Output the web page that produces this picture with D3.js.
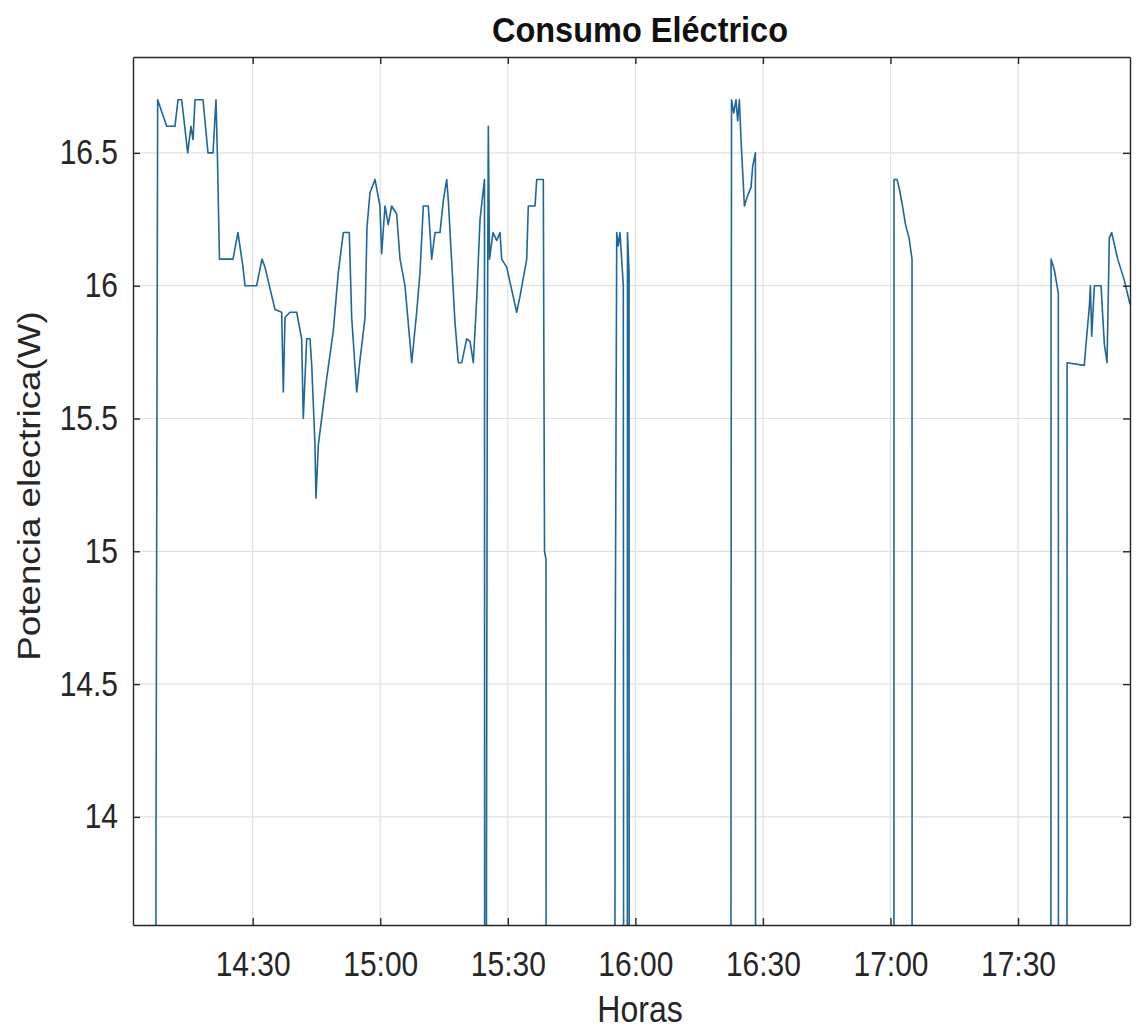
<!DOCTYPE html>
<html><head><meta charset="utf-8">
<script src="https://cdn.jsdelivr.net/npm/d3@7"></script>
<style>body{margin:0;background:#fff} svg{display:block}</style>
</head><body><div id="chart"></div>
<script>
const chartTitle = "Consumo Eléctrico";
const xLabel = "Horas";
const yLabel = "Potencia electrica(W)";
const xDomain = ["14:01:51", "17:56:20"];
const yDomain = [13.593, 16.861];
const xTickLabels = ["14:30", "15:00", "15:30", "16:00", "16:30", "17:00", "17:30"];
const yTickValues = [14, 14.5, 15, 15.5, 16, 16.5];
const yTickLabels = ["14", "14.5", "15", "15.5", "16", "16.5"];

const times = [
"14:07:01","14:07:15","14:07:39","14:09:46","14:11:43","14:12:26","14:13:18","14:14:43","14:15:29","14:15:58",
"14:16:26","14:17:08","14:18:19","14:19:29","14:20:40","14:21:22","14:21:43","14:22:11","14:25:22","14:26:32",
"14:27:43","14:28:11","14:30:56","14:32:11","14:32:53","14:35:15","14:36:49","14:37:12","14:37:36","14:38:46",
"14:40:21","14:41:31","14:41:54","14:42:42","14:43:29","14:43:53","14:44:39","14:44:53","14:45:26","14:47:24",
"14:48:58","14:50:08","14:51:19","14:52:43","14:53:17","14:54:28","14:55:14","14:56:25","14:56:53","14:57:35",
"14:58:46","14:59:56","15:00:20","15:01:07","15:01:53","15:02:41","15:03:52","15:04:39","15:05:49","15:07:24",
"15:08:34","15:09:21","15:10:08","15:11:18","15:12:06","15:12:53","15:14:03","15:14:50","15:15:38","15:16:01",
"15:17:35","15:18:22","15:19:10","15:20:20","15:21:07","15:21:53","15:22:41","15:23:28","15:24:31","15:24:43",
"15:24:59","15:25:11","15:25:25","15:25:42","15:26:31","15:27:23","15:28:10","15:28:34","15:29:44","15:32:05",
"15:32:52","15:34:27","15:34:49","15:36:24","15:36:48","15:38:21","15:38:38","15:38:59","15:39:13",
"15:54:59","15:55:13","15:55:37","15:55:59","15:56:23","15:57:10","15:57:34","15:57:55","15:58:09","15:58:31","15:58:44",
"16:22:16","16:22:30","16:22:37","16:23:08","16:23:40","16:24:04","16:24:28","16:24:51","16:25:39","16:26:25",
"16:27:12","16:27:36","16:28:14","16:28:23",
"17:00:43","17:00:50","17:01:32","17:02:01","17:02:50","17:03:32","17:04:22","17:05:04","17:05:11",
"17:37:32","17:37:46","17:38:32","17:39:29","17:39:36","17:41:25","17:41:32","17:45:35","17:45:59","17:46:46",
"17:47:01","17:47:20","17:47:57","17:49:31","17:50:18","17:50:56","17:51:28","17:52:02","17:53:27","17:55:00","17:56:20"
];

const power = [
0,13.83,16.7,16.6,16.6,16.7,16.7,16.5,16.6,16.55,
16.7,16.7,16.7,16.5,16.5,16.7,16.48,16.1,16.1,16.2,
16.07,16.0,16.0,16.1,16.07,15.91,15.9,15.6,15.88,15.9,
15.9,15.8,15.5,15.8,15.8,15.7,15.4,15.2,15.4,15.65,
15.83,16.05,16.2,16.2,15.88,15.6,15.72,15.88,16.22,16.35,
16.4,16.3,16.12,16.3,16.23,16.3,16.27,16.1,16.0,15.71,
15.9,16.05,16.3,16.3,16.1,16.2,16.2,16.32,16.4,16.32,
15.86,15.71,15.71,15.8,15.79,15.71,15.95,16.25,16.4,0,
13.8,15.7,16.6,16.1,16.2,16.17,16.2,16.1,16.07,15.9,
15.96,16.1,16.3,16.3,16.4,16.4,15.0,14.97,0,
0,14.4,16.2,16.15,16.2,16.0,0,0,16.2,16.05,0,
0,14.5,16.7,16.65,16.7,16.62,16.7,16.55,16.3,16.34,
16.37,16.45,16.5,0,
0,16.4,16.4,16.37,16.3,16.23,16.18,16.1,0,
0,16.1,16.06,15.97,0,0,15.71,15.7,15.78,15.92,
16.0,15.81,16.0,16.0,15.78,15.71,16.18,16.2,16.1,16.02,15.93
];

const W = 1141, H = 1030;
const margin = {left: 133, top: 57, right: 11, bottom: 105};
const pw = W - margin.left - margin.right;
const ph = H - margin.top - margin.bottom;

const parseT = s => { const [h, m, sec] = s.split(":").map(Number); return new Date(2020, 0, 1, h, m, sec || 0); };
const data = times.map((t, i) => ({t: parseT(t), v: power[i]}));

const x = d3.scaleTime().domain(xDomain.map(parseT)).range([0, pw]);
const y = d3.scaleLinear().domain(yDomain).range([ph, 0]);
const xTicks = xTickLabels.map(parseT);

const FONT = "'Liberation Sans', Arial, Helvetica, sans-serif";
const TXT = "#262626";
const STRETCH = 1.15;

const svg = d3.select("#chart").append("svg").attr("width", W).attr("height", H)
  .style("font-family", FONT);
svg.append("rect").attr("width", W).attr("height", H).attr("fill", "#fff");

const g = svg.append("g").attr("transform", `translate(${margin.left},${margin.top})`);

// grid
g.append("g").selectAll("line").data(xTicks).join("line")
  .attr("x1", d => x(d)).attr("x2", d => x(d)).attr("y1", 0).attr("y2", ph)
  .attr("stroke", "#e1e1e1").attr("stroke-width", 1.2);
g.append("g").selectAll("line").data(yTickValues).join("line")
  .attr("y1", d => y(d)).attr("y2", d => y(d)).attr("x1", 0).attr("x2", pw)
  .attr("stroke", "#e1e1e1").attr("stroke-width", 1.2);

// data line
svg.append("defs").append("clipPath").attr("id", "clip")
  .append("rect").attr("width", pw).attr("height", ph);
g.append("path").datum(data)
  .attr("clip-path", "url(#clip)")
  .attr("fill", "none").attr("stroke", "#1f6699").attr("stroke-width", 1.6)
  .attr("stroke-linejoin", "round")
  .attr("d", d3.line().x(d => x(d.t)).y(d => y(d.v)));

// axes
const fmt = d3.timeFormat("%H:%M");
const xAxis = g.append("g").attr("transform", `translate(0,${ph})`)
  .call(d3.axisBottom(x).tickValues(xTicks).tickFormat(fmt).tickSizeInner(-7).tickSizeOuter(0).tickPadding(23));
const xTop = g.append("g")
  .call(d3.axisTop(x).tickValues(xTicks).tickFormat("").tickSizeInner(-7).tickSizeOuter(0));
const yAxis = g.append("g")
  .call(d3.axisLeft(y).tickValues(yTickValues).tickFormat((d, i) => yTickLabels[i]).tickSizeInner(-7).tickSizeOuter(0).tickPadding(15));
const yRight = g.append("g").attr("transform", `translate(${pw},0)`)
  .call(d3.axisRight(y).tickValues(yTickValues).tickFormat("").tickSizeInner(-7).tickSizeOuter(0));

[xAxis, xTop, yAxis, yRight].forEach(a => {
  a.selectAll("path.domain").attr("stroke", TXT).attr("stroke-width", 1.4);
  a.selectAll(".tick line").attr("stroke", TXT).attr("stroke-width", 1.4);
  a.selectAll(".tick text").attr("fill", TXT).style("font-size", "30px").style("font-family", FONT)
    .attr("transform", `scale(1,${STRETCH})`);
});

// title
svg.append("text").text(chartTitle)
  .attr("transform", `translate(640,42) scale(1,1.08)`)
  .attr("text-anchor", "middle").attr("fill", "#111")
  .style("font-size", "32.5px").style("font-weight", "bold");

// x label
svg.append("text").text(xLabel)
  .attr("transform", `translate(640,1022) scale(1,${STRETCH})`)
  .attr("text-anchor", "middle").attr("fill", TXT).style("font-size", "32px");

// y label
svg.append("text").text(yLabel)
  .attr("transform", `translate(40,486) scale(1,${STRETCH}) rotate(-90)`)
  .attr("text-anchor", "middle").attr("fill", TXT).style("font-size", "32px");
</script>
</body></html>
